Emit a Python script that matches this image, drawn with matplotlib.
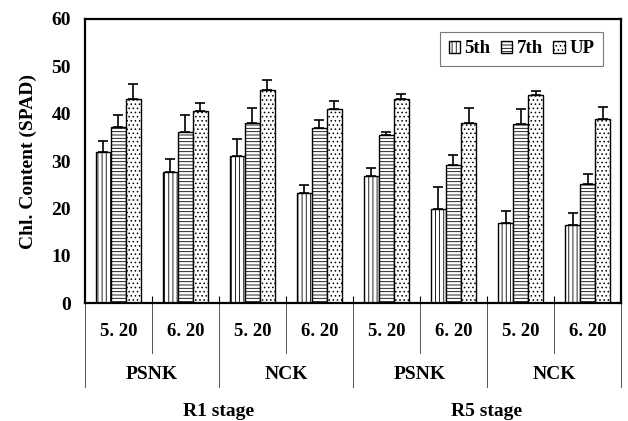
import matplotlib
matplotlib.use("Agg")
import matplotlib.pyplot as plt
import matplotlib.transforms as mtransforms
import numpy as np

plt.rcParams['font.family'] = ['Liberation Serif', 'DejaVu Serif']
plt.rcParams['font.weight'] = 'bold'
plt.rcParams['hatch.linewidth'] = 0.6

dates = ["5. 20", "6. 20", "5. 20", "6. 20", "5. 20", "6. 20", "5. 20", "6. 20"]
treatments = ["PSNK", "NCK", "PSNK", "NCK"]
stages = ["R1 stage", "R5 stage"]
series = ["5th", "7th", "UP"]

v5th = [32.0, 27.6, 31.0, 23.2, 26.9, 19.8, 17.0, 16.4]
v7th = [37.1, 36.1, 38.0, 36.9, 35.4, 29.2, 37.9, 25.1]
vUP = [43.1, 40.5, 45.0, 41.0, 43.0, 38.0, 44.0, 38.9]
e5th = [2.2, 2.8, 3.6, 1.7, 1.7, 4.8, 2.5, 2.6]
e7th = [2.6, 3.6, 3.2, 1.8, 0.7, 2.1, 3.0, 2.2]
eUP = [3.1, 1.7, 2.2, 1.7, 1.2, 3.1, 0.7, 2.5]

values = [v5th, v7th, vUP]
errors = [e5th, e7th, eUP]
hatches = ['||||', '-----', '....']

fig = plt.figure(figsize=(6.28, 4.21), dpi=100)
ax = fig.add_axes([0.135, 0.280, 0.854, 0.675])

x = np.arange(len(dates))
w = 0.224
for i, (vals, errs, h, name) in enumerate(zip(values, errors, hatches, series)):
    pos = x + (i - 1) * w
    ax.bar(pos, vals, width=w, color='white', edgecolor='black', linewidth=1.0,
           hatch=h, label=name, zorder=2)
    ax.errorbar(pos, vals, yerr=[np.zeros(len(errs)), errs], fmt='none',
                ecolor='black', elinewidth=1.2, capsize=3.5, capthick=1.2, zorder=3)

ax.set_xlim(-0.5, len(dates) - 0.5)
ax.set_ylim(0, 60)
ax.set_yticks(range(0, 61, 10))
ax.tick_params(axis='y', length=0, pad=10, labelsize=14)
ax.set_xticks(np.arange(0.5, len(dates) - 0.5, 1.0))
ax.set_xticklabels([])
ax.tick_params(axis='x', direction='in', length=5, width=0.8)
for s in ax.spines.values():
    s.set_linewidth(1.6)
for lab in ax.get_yticklabels():
    lab.set_fontweight('bold')

ax.set_ylabel("Chl. Content (SPAD)", fontsize=14, fontweight='bold', labelpad=10)

trans = mtransforms.blended_transform_factory(ax.transData, ax.transAxes)
# date labels and inner separators
for i, d in enumerate(dates):
    ax.text(i, -0.099, d, transform=trans, ha='center', va='center', fontsize=13.5, fontweight='bold')
for b in np.arange(0.5, len(dates) - 0.5, 2.0):
    ax.plot([b, b], [0, -0.176], transform=trans, color='#555555', lw=0.7, clip_on=False)
# treatment labels and outer separators
for j, t in enumerate(treatments):
    ax.text(2 * j + 0.5, -0.25, t, transform=trans, ha='center', va='center', fontsize=14, fontweight='bold')
for b in np.arange(-0.5, len(dates), 2.0):
    ax.plot([b, b], [0, -0.296], transform=trans, color='#555555', lw=0.7, clip_on=False)
# stage labels
for k, st in enumerate(stages):
    ax.text(4 * k + 1.5, -0.380, st, transform=trans, ha='center', va='center', fontsize=14, fontweight='bold')

leg = ax.legend(loc='upper right', ncol=3, frameon=True, fancybox=False, edgecolor='#555555',
                handlelength=0.6, handleheight=0.6, handletextpad=0.25, columnspacing=0.55,
                borderpad=0.45, borderaxespad=0, prop={'weight': 'bold', 'size': 13.5},
                bbox_to_anchor=(0.966, 0.954))
leg.get_frame().set_linewidth(0.8)

fig.savefig("out.png", dpi=100)
